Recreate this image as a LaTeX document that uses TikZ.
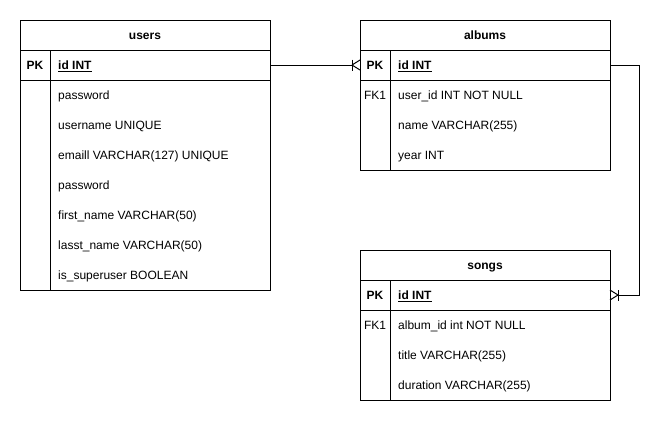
\documentclass[tikz,border=0pt]{standalone}
\usepackage{fontspec}
\setmainfont{Liberation Sans}
\usetikzlibrary{positioning}

\tikzset{
  tbox/.style={draw, line width=1pt, minimum width=250pt, inner sep=0pt, outer sep=0pt, anchor=north west},
  txt/.style={anchor=west, inner sep=0pt, text height=8.6pt, text depth=0pt, font=\fontsize{12}{14}\selectfont},
  hdr/.style={txt, anchor=center, font=\fontsize{12}{14}\selectfont\bfseries},
  crow/.pic={
    \draw [line width=1pt] (-8,-5.5) -- (-8,5.5);
    \draw [line width=1pt] (-8,0) -- (0,-5) (-8,0) -- (0,5);
  }
}

\begin{document}
\begin{tikzpicture}[x=1pt,y=-1pt]
\useasboundingbox [fill=white] (0,0) rectangle (668,421);

% users
\node [tbox, minimum height=30pt] (usershead) at (20,20) {};
\node [tbox, minimum height=30pt] (usersid) at (20,50) {};
\node [tbox, minimum height=210pt] (usersbody) at (20,80) {};
\draw [line width=1pt] ([xshift=30pt]usersid.north west) -- ([xshift=30pt]usersbody.south west);
\node [hdr] (userstitle) at (usershead) {users};
\node [hdr] (userspk) at (35,65) {PK};
\node [txt, font=\fontsize{12}{14}\selectfont\bfseries] (usersidtxt) at (58,65) {\underline{id INT}};
\foreach \t [count=\i] in {password, username UNIQUE, emaill VARCHAR(127) UNIQUE, password,
  first\_name VARCHAR(50), lasst\_name VARCHAR(50), is\_superuser BOOLEAN}
  \node [txt] (usersrow\i) at (58,65+30*\i) {\t};

% albums
\node [tbox, minimum height=30pt] (albumshead) at (360,20) {};
\node [tbox, minimum height=30pt] (albumsid) at (360,50) {};
\node [tbox, minimum height=90pt] (albumsbody) at (360,80) {};
\draw [line width=1pt] ([xshift=30pt]albumsid.north west) -- ([xshift=30pt]albumsbody.south west);
\node [hdr] (albumstitle) at (albumshead) {albums};
\node [hdr] (albumspk) at (375,65) {PK};
\node [txt, font=\fontsize{12}{14}\selectfont\bfseries] (albumsidtxt) at (398,65) {\underline{id INT}};
\node [hdr, font=\fontsize{12}{14}\selectfont] (albumsfk) at (375,95) {FK1};
\foreach \t [count=\i] in {user\_id INT NOT NULL, name VARCHAR(255), year INT}
  \node [txt] (albumsrow\i) at (398,65+30*\i) {\t};

% songs
\node [tbox, minimum height=30pt] (songshead) at (360,250) {};
\node [tbox, minimum height=30pt] (songsid) at (360,280) {};
\node [tbox, minimum height=90pt] (songsbody) at (360,310) {};
\draw [line width=1pt] ([xshift=30pt]songsid.north west) -- ([xshift=30pt]songsbody.south west);
\node [hdr] (songstitle) at (songshead) {songs};
\node [hdr] (songspk) at (375,295) {PK};
\node [txt, font=\fontsize{12}{14}\selectfont\bfseries] (songsidtxt) at (398,295) {\underline{id INT}};
\node [hdr, font=\fontsize{12}{14}\selectfont] (songsfk) at (375,325) {FK1};
\foreach \t [count=\i] in {album\_id int NOT NULL, title VARCHAR(255), duration VARCHAR(255)}
  \node [txt] (songsrow\i) at (398,295+30*\i) {\t};

% relations
\draw [line width=1pt] (usersid.east) -- ([xshift=-8pt]albumsid.west);
\pic at (albumsid.west) {crow};
\draw [line width=1pt] (albumsid.east) -- ++(29,0) |- ([xshift=8pt]songsid.east);
\pic [rotate=180] at (songsid.east) {crow};

\end{tikzpicture}
\end{document}
